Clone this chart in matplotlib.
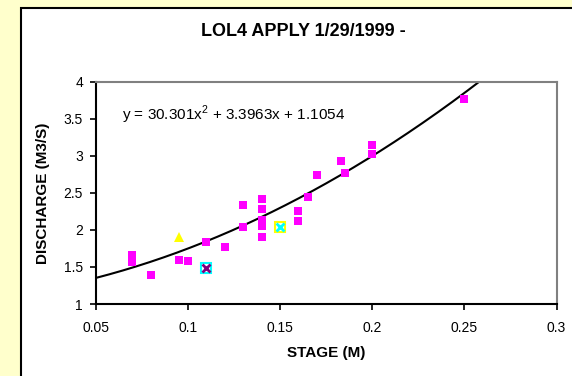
import numpy as np
import matplotlib
matplotlib.use("Agg")
import matplotlib.pyplot as plt
from matplotlib.patches import Rectangle
from matplotlib.ticker import FuncFormatter

plt.rcParams['font.family'] = ['Liberation Sans', 'DejaVu Sans']
plt.rcParams['mathtext.fontset'] = 'custom'
plt.rcParams['mathtext.rm'] = 'Liberation Sans'

# measured stage / discharge pairs
stage = [0.07, 0.07, 0.08, 0.095, 0.10, 0.11, 0.12, 0.13, 0.13,
         0.14, 0.14, 0.14, 0.14, 0.14, 0.16, 0.16, 0.165, 0.17,
         0.183, 0.185, 0.20, 0.20, 0.25]
discharge = [1.66, 1.57, 1.39, 1.60, 1.58, 1.83, 1.77, 2.34, 2.04,
             2.42, 2.28, 2.14, 2.05, 1.90, 2.25, 2.12, 2.44, 2.74,
             2.93, 2.77, 3.15, 3.02, 3.77]

# odd readings shown with their own symbols
tri_x, tri_y = [0.095], [1.90]
xbox_x, xbox_y = [0.11], [1.48]
ybox_x, ybox_y = [0.15], [2.04]

# fitted rating curve
coef = [30.301, 3.3963, 1.1054]
xticks = [0.05, 0.1, 0.15, 0.2, 0.25, 0.3]
yticks = [1, 1.5, 2, 2.5, 3, 3.5, 4]

fig = plt.figure(figsize=(5.72, 3.76), dpi=100)
fig.patch.set_facecolor('#FFFFCC')
fig.patches.append(Rectangle((21 / 572, -0.05), 1.0, 1 - 8 / 376 + 0.05,
                             transform=fig.transFigure, facecolor='white',
                             edgecolor='black', linewidth=1.5, zorder=-1))

ax = fig.add_axes([95.6 / 572, 1 - 304 / 376, 461 / 572, 222.3 / 376])
ax.set_zorder(1)

xs = np.linspace(0.05, 0.27, 300)
ax.plot(xs, np.polyval(coef, xs), color='black', linewidth=1.5, zorder=2)

ax.plot(stage, discharge, 's', color='#FF00FF', markersize=5.5,
        markeredgewidth=0, zorder=3)
ax.plot(tri_x, tri_y, '^', color='#FFFF00', markersize=7,
        markeredgewidth=0, zorder=3)
ax.plot(xbox_x, xbox_y, 's', markerfacecolor='white', markeredgecolor='#00FFFF',
        markersize=7.5, markeredgewidth=1.5, zorder=3)
ax.plot(xbox_x, xbox_y, 'x', color='#800080', markersize=6,
        markeredgewidth=2, zorder=4)
ax.plot(ybox_x, ybox_y, 's', markerfacecolor='white', markeredgecolor='#FFFF00',
        markersize=7.5, markeredgewidth=1.5, zorder=3)
ax.plot(ybox_x, ybox_y, 'x', color='#00FFFF', markersize=6,
        markeredgewidth=2, zorder=4)

ax.set_xlim(0.05, 0.3)
ax.set_ylim(1, 4)
ax.set_xticks(xticks)
ax.set_yticks(yticks)
fmt = FuncFormatter(lambda v, p: '%g' % v)
ax.xaxis.set_major_formatter(fmt)
ax.yaxis.set_major_formatter(fmt)
ax.tick_params(axis='x', direction='out', length=4, width=1.2, pad=8,
               labelsize=10)
ax.tick_params(axis='y', direction='out', length=4, width=1.2, pad=5,
               labelsize=10)

for side in ['left', 'bottom']:
    ax.spines[side].set_color('black')
    ax.spines[side].set_linewidth(1.5)
for side in ['top', 'right']:
    ax.spines[side].set_color('#808080')
    ax.spines[side].set_linewidth(1.5)

ax.text(0.0642, 3.55, 'y = 30.301x$^2$ + 3.3963x + 1.1054', fontsize=11,
        va='center', ha='left')

ax.set_xlabel('STAGE (M)', fontsize=11, fontweight='bold', labelpad=8)
ax.set_ylabel('DISCHARGE (M3/S)', fontsize=11, fontweight='bold', labelpad=10)
fig.text(303 / 572, 1 - 32 / 376, 'LOL4 APPLY 1/29/1999 -', fontsize=13,
         fontweight='bold', ha='center', va='center')

fig.savefig('out.png', dpi=100, facecolor=fig.get_facecolor())
